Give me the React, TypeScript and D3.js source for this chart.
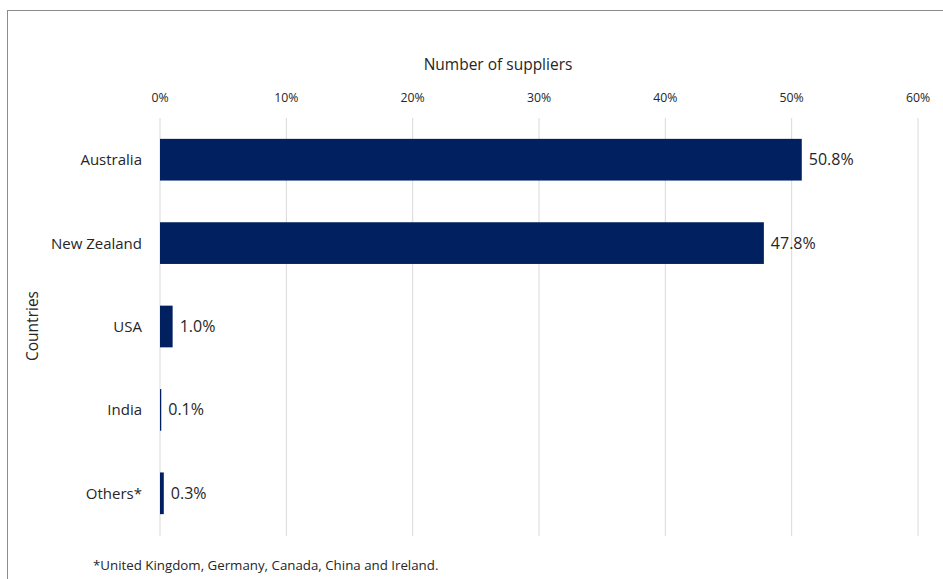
import React from "react";
import * as d3 from "d3";

const categories = ["Australia", "New Zealand", "USA", "India", "Others*"];
const values = [50.8, 47.8, 1.0, 0.1, 0.3];
const xTicks = [0, 10, 20, 30, 40, 50, 60];
const xTitle = "Number of suppliers";
const yTitle = "Countries";
const footnote = "*United Kingdom, Germany, Canada, China and Ireland.";

const W = 943;
const H = 579;
const FONT = "'Open Sans', 'Noto Sans', sans-serif";

export default function App() {
  const x = d3.scaleLinear().domain([0, 60]).range([160, 918]);
  const y = d3.scaleBand().domain(categories).range([118, 535]).paddingInner(0.5).paddingOuter(0.25);
  const text = "#262626";
  return (
    <div style={{ position: "absolute", left: 0, top: 0 }}>
      <svg width={W} height={H} style={{ display: "block", background: "#fff" }}>
        <rect x={7.5} y={10.5} width={W} height={H} fill="#fff" stroke="#8c8c8c" strokeWidth={1} />
        {xTicks.map((t) => (
          <g key={t}>
            <line x1={x(t)} x2={x(t)} y1={118} y2={536} stroke="#d9d9d9" strokeWidth={1} />
            <text x={x(t)} y={102} textAnchor="middle" fontSize={12.3} fontFamily={FONT} fill={text}>
              {t + "%"}
            </text>
          </g>
        ))}
        <text x={498} y={70} textAnchor="middle" fontSize={15.5} fontFamily={FONT} fill={text}>
          {xTitle}
        </text>
        <text
          transform={`translate(38,326) rotate(-90)`}
          textAnchor="middle"
          fontSize={15.5}
          fontFamily={FONT}
          fill={text}
        >
          {yTitle}
        </text>
        {categories.map((c, i) => {
          const yy = y(c)!;
          const bw = y.bandwidth();
          return (
            <g key={c}>
              <rect x={x(0)} y={yy} width={x(values[i]) - x(0)} height={bw} fill="#002060" />
              <text x={142} y={yy + bw / 2 + 5.5} textAnchor="end" fontSize={15} fontFamily={FONT} fill={text}>
                {c}
              </text>
              <text x={x(values[i]) + 7} y={yy + bw / 2 + 5.5} fontSize={16} fontFamily={FONT} fill={text}>
                {values[i].toFixed(1) + "%"}
              </text>
            </g>
          );
        })}
        <text x={93} y={570} fontSize={13.3} fontFamily={FONT} fill={text}>
          {footnote}
        </text>
      </svg>
    </div>
  );
}
